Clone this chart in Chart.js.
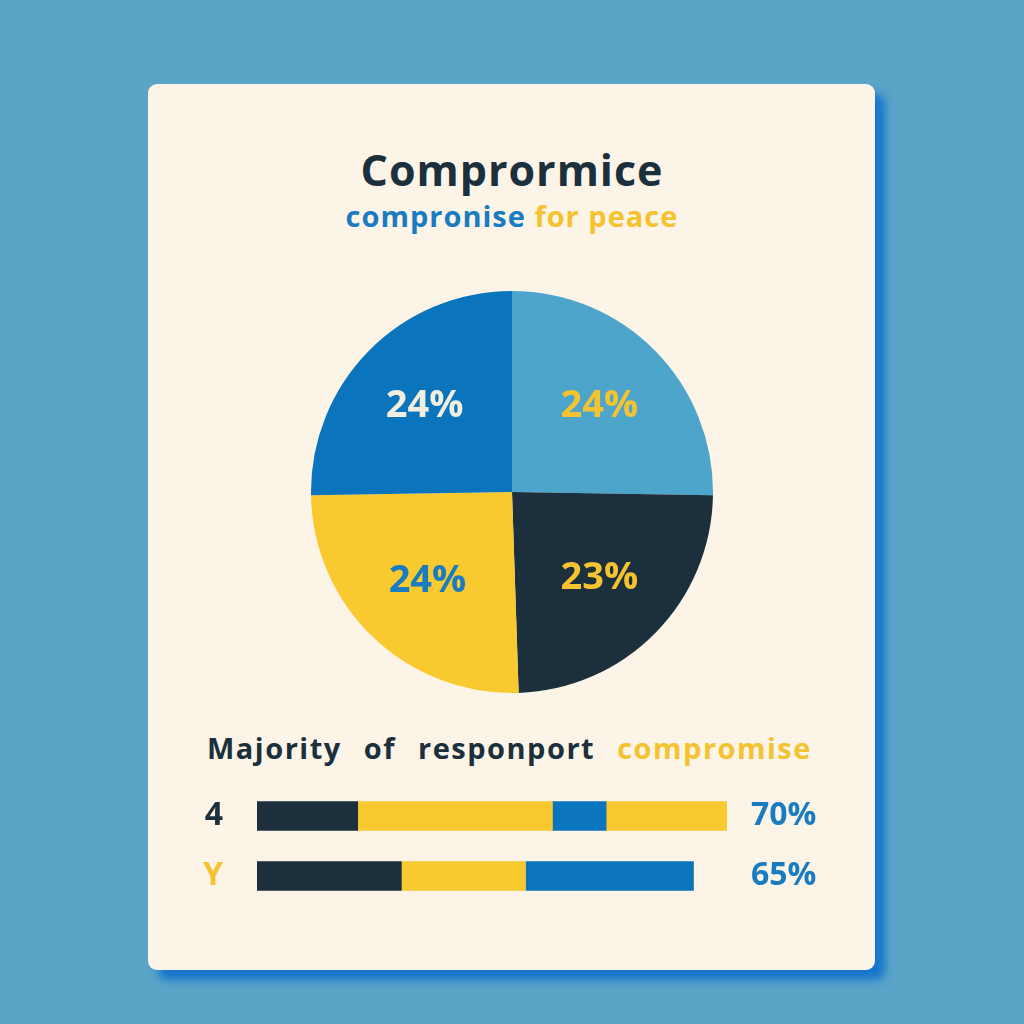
<!DOCTYPE html>
<html>
<head>
<meta charset="utf-8">
<script src="https://cdn.jsdelivr.net/npm/chart.js@4"></script>
<style>
  html, body { margin: 0; padding: 0; }
  body { width: 1024px; height: 1024px; background: #5aa4c8; position: relative; overflow: hidden; font-family: 'Open Sans', sans-serif; }
  .card { position: absolute; left: 148px; top: 84px; width: 727px; height: 886px; background: #fcf4e6; border-radius: 9px; box-shadow: 10px 10px 9px rgba(16, 112, 204, 0.9); }
  .title { position: absolute; left: 0; width: 1024px; top: 140px; text-align: center; font-weight: 700; font-size: 43px; letter-spacing: 1px; color: #1b2f3d; }
  .sub { position: absolute; left: 0; width: 1024px; top: 196px; text-align: center; font-weight: 700; font-size: 29px; letter-spacing: 1px; }
  .heading { position: absolute; left: 207px; top: 728px; font-weight: 700; font-size: 29px; letter-spacing: 1.5px; word-spacing: 13px; color: #1b2f3d; white-space: nowrap; }
  .blue { color: #1a7cc0; }
  .yellow { color: #f5c230; }
  #pieBox { position: absolute; left: 310px; top: 291px; width: 404px; height: 402px; }
  #barBox { position: absolute; left: 195px; top: 786px; width: 635px; height: 120px; }
</style>
</head>
<body>
<div class="card"></div>
<div class="title">Comprormice</div>
<div class="sub"><span class="blue">compronise</span> <span class="yellow">for peace</span></div>
<div id="pieBox"><canvas id="pieChart"></canvas></div>
<div class="heading">Majority of responport <span class="yellow">compromise</span></div>
<div id="barBox"><canvas id="barChart"></canvas></div>
<script>
// pie slices, clockwise from the top
const pieLabels = ['24%', '23%', '24%', '24%'];
const pieValues = [24, 23, 24, 24];
const pieColors = ['#4ea5cc', '#1b2f3d', '#f9c930', '#0a74bc'];
const pieTextColors = ['#f5c230', '#f5c230', '#1a7cc0', '#f3efe0'];

// stacked bars
const barRows = ['4', 'Y'];
const barTotals = ['70%', '65%'];
const navySeg = [15, 21.5];
const yellowSeg = [29, 18.5];
const blueSeg = [8, 25];
const yellowSeg2 = [18, 0];

const pieLabelPlugin = {
    id: 'pieLabels',
    afterDatasetsDraw(chart) {
        const ctx = chart.ctx;
        const meta = chart.getDatasetMeta(0);
        ctx.save();
        ctx.font = 'bold 38px "Open Sans", sans-serif';
        ctx.textAlign = 'center';
        ctx.textBaseline = 'middle';
        meta.data.forEach((arc, i) => {
            const mid = (arc.startAngle + arc.endAngle) / 2;
            const r = arc.outerRadius * 0.61;
            ctx.fillStyle = pieTextColors[i];
            ctx.fillText(pieLabels[i], arc.x + Math.cos(mid) * r, arc.y + Math.sin(mid) * r);
        });
        ctx.restore();
    }
};

new Chart(document.getElementById('pieChart'), {
    type: 'pie',
    data: {
        labels: pieLabels,
        datasets: [{
            data: pieValues,
            backgroundColor: pieColors,
            borderWidth: 0
        }]
    },
    options: {
        responsive: true,
        maintainAspectRatio: false,
        animation: false,
        layout: { padding: 0 },
        plugins: { legend: { display: false }, tooltip: { enabled: false } }
    },
    plugins: [pieLabelPlugin]
});

// labels on the side axes should not eat vertical room
function fixSide(width) {
    return function(scale) {
        scale.width = width;
        scale.paddingTop = 0;
        scale.paddingBottom = 0;
    };
}

new Chart(document.getElementById('barChart'), {
    type: 'bar',
    data: {
        labels: barRows,
        datasets: [
            { data: navySeg, backgroundColor: '#1b2f3d' },
            { data: yellowSeg, backgroundColor: '#f9c930' },
            { data: blueSeg, backgroundColor: '#0a74bc' },
            { data: yellowSeg2, backgroundColor: '#f9c930' }
        ]
    },
    options: {
        indexAxis: 'y',
        responsive: true,
        maintainAspectRatio: false,
        animation: false,
        layout: { padding: 0 },
        datasets: { bar: { barThickness: 29, borderWidth: 0 } },
        scales: {
            x: { stacked: true, min: 0, max: 70, display: false },
            y: {
                stacked: true,
                position: 'left',
                grid: { display: false },
                border: { display: false },
                ticks: {
                    padding: 26,
                    autoSkip: false,
                    color: ['#1b2f3d', '#f5c230'],
                    font: { family: 'Open Sans', size: 32, weight: 'bold' }
                },
                afterFit: fixSide(62)
            },
            y2: {
                type: 'category',
                labels: barTotals,
                position: 'right',
                grid: { display: false },
                border: { display: false },
                ticks: {
                    padding: 16,
                    autoSkip: false,
                    color: '#1a7cc0',
                    font: { family: 'Open Sans', size: 32, weight: 'bold' }
                },
                afterFit: fixSide(103)
            }
        },
        plugins: { legend: { display: false }, tooltip: { enabled: false } }
    }
});
</script>
</body>
</html>
